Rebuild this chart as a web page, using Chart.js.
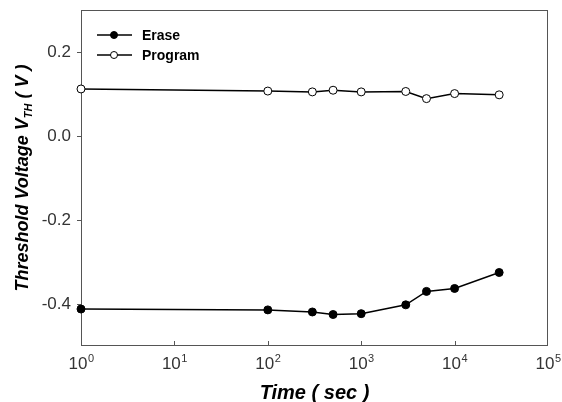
<!DOCTYPE html>
<html>
<head>
<meta charset="utf-8">
<script src="https://cdn.jsdelivr.net/npm/chart.js@4"></script>
<style>
  html, body { margin: 0; padding: 0; background: #fff; }
  #wrap { width: 562px; height: 402px; position: relative; }
</style>
</head>
<body>
<div id="wrap"><canvas id="vthChart"></canvas></div>
<script>
// retention measurement: threshold voltage vs. time
const times = [1, 100, 300, 500, 1000, 3000, 5000, 10000, 30000];
const eraseVth = [-0.412, -0.414, -0.419, -0.425, -0.423, -0.402, -0.370, -0.363, -0.325];
const programVth = [0.112, 0.107, 0.105, 0.109, 0.105, 0.106, 0.089, 0.101, 0.098];
const xTicks = [1, 10, 100, 1000, 10000, 100000];
const yTicks = [-0.4, -0.2, 0.0, 0.2];
const seriesNames = ['Erase', 'Program'];

const FONT = '"Liberation Sans", Arial, sans-serif';
const AXIS = '#555';

function pts(ys){ return times.map((t, i) => ({ x: t, y: ys[i] })); }

// frame + inward x ticks, drawn under the data
const framePlugin = {
  id: 'frame',
  beforeDatasetsDraw(chart){
    const { ctx, chartArea: a, scales } = chart;
    ctx.save();
    ctx.strokeStyle = AXIS;
    ctx.lineWidth = 1;
    ctx.strokeRect(a.left + 0.5, a.top + 0.5, a.right - a.left - 1, a.bottom - a.top - 1);
    ctx.beginPath();
    xTicks.slice(1, -1).forEach(v => {
      const px = Math.round(scales.x.getPixelForValue(v)) + 0.5;
      ctx.moveTo(px, a.bottom);
      ctx.lineTo(px, a.bottom - 5);
    });
    ctx.stroke();
    ctx.restore();
  }
};

// tick labels with exponents, axis titles, legend
const labelPlugin = {
  id: 'labels',
  afterDraw(chart){
    const { ctx, chartArea: a, scales } = chart;
    ctx.save();
    ctx.fillStyle = '#333';
    ctx.textBaseline = 'alphabetic';
    xTicks.forEach(v => {
      const px = scales.x.getPixelForValue(v);
      const exp = String(Math.round(Math.log10(v)));
      ctx.font = '17px ' + FONT;
      const wb = ctx.measureText('10').width;
      ctx.font = '11px ' + FONT;
      const we = ctx.measureText(exp).width;
      const x0 = px - (wb + we) / 2;
      ctx.font = '17px ' + FONT;
      ctx.textAlign = 'left';
      ctx.fillText('10', x0, a.bottom + 23);
      ctx.font = '11px ' + FONT;
      ctx.fillText(exp, x0 + wb + 0.5, a.bottom + 16);
    });

    // x title
    ctx.fillStyle = '#000';
    ctx.font = 'italic bold 20px ' + FONT;
    ctx.textAlign = 'center';
    ctx.fillText('Time ( sec )', (a.left + a.right) / 2, 399);

    // y title with subscript
    ctx.save();
    ctx.translate(28, (a.top + a.bottom) / 2);
    ctx.rotate(-Math.PI / 2);
    const big = 'italic bold 18px ' + FONT;
    const small = 'italic bold 11px ' + FONT;
    const parts = [['Threshold Voltage V', big, 0], ['TH', small, 4], [' ( V )', big, 0]];
    let total = 0;
    parts.forEach(p => { ctx.font = p[1]; total += ctx.measureText(p[0]).width; });
    let x = -total / 2;
    ctx.textAlign = 'left';
    parts.forEach(p => {
      ctx.font = p[1];
      ctx.fillText(p[0], x, p[2]);
      x += ctx.measureText(p[0]).width;
    });
    ctx.restore();

    // legend
    chart.data.datasets.forEach((ds, i) => {
      const y = 35 + i * 20;
      ctx.strokeStyle = '#000';
      ctx.lineWidth = 1.5;
      ctx.beginPath();
      ctx.moveTo(97, y);
      ctx.lineTo(132, y);
      ctx.stroke();
      ctx.beginPath();
      ctx.arc(114, y, 3.5, 0, Math.PI * 2);
      ctx.fillStyle = ds.pointBackgroundColor;
      ctx.fill();
      ctx.lineWidth = 1;
      ctx.stroke();
      ctx.fillStyle = '#000';
      ctx.font = 'bold 14px ' + FONT;
      ctx.textAlign = 'left';
      ctx.textBaseline = 'middle';
      ctx.fillText(ds.label, 142, y + 1);
      ctx.textBaseline = 'alphabetic';
    });
    ctx.restore();
  }
};

const ctx = document.getElementById('vthChart').getContext('2d');
new Chart(ctx, {
  type: 'line',
  data: {
    datasets: [
      {
        label: seriesNames[0],
        data: pts(eraseVth),
        borderColor: '#000',
        borderWidth: 1.5,
        pointRadius: 4,
        pointBackgroundColor: '#000',
        pointBorderColor: '#000',
        pointBorderWidth: 1,
        tension: 0,
        clip: false
      },
      {
        label: seriesNames[1],
        data: pts(programVth),
        borderColor: '#000',
        borderWidth: 1.5,
        pointRadius: 4,
        pointBackgroundColor: '#fff',
        pointBorderColor: '#000',
        pointBorderWidth: 1,
        tension: 0,
        clip: false
      }
    ]
  },
  options: {
    responsive: true,
    maintainAspectRatio: false,
    animation: false,
    layout: { padding: { top: 10, right: 14, left: 0, bottom: 0 } },
    plugins: { legend: { display: false }, tooltip: { enabled: false } },
    scales: {
      x: {
        type: 'logarithmic',
        min: 1,
        max: 100000,
        afterBuildTicks: s => { s.ticks = xTicks.map(v => ({ value: v })); },
        afterFit: s => { s.height = 56; s.paddingLeft = 0; s.paddingRight = 0; },
        ticks: { display: false },
        grid: { display: false },
        border: { display: false }
      },
      y: {
        min: -0.5,
        max: 0.3,
        afterBuildTicks: s => { s.ticks = yTicks.map(v => ({ value: v })); },
        afterFit: s => { s.width = 81; s.paddingTop = 0; s.paddingBottom = 0; },
        ticks: {
          color: '#333',
          font: { family: FONT, size: 17 },
          padding: 6,
          callback: v => v.toFixed(1)
        },
        grid: { drawOnChartArea: false, tickLength: 4, color: AXIS },
        border: { display: false }
      }
    }
  },
  plugins: [framePlugin, labelPlugin]
});
</script>
</body>
</html>
